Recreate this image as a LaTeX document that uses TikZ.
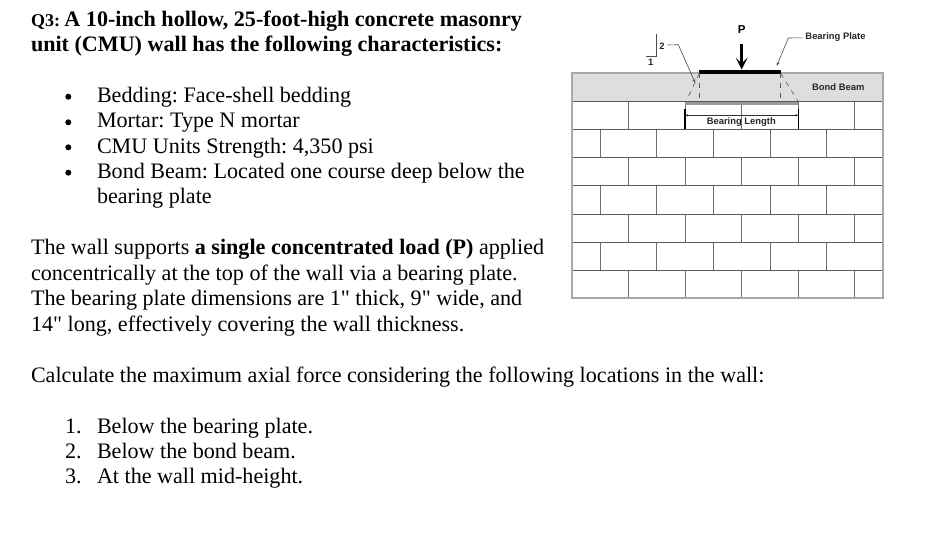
\documentclass[tikz,border=0pt]{standalone}
\usepackage{fontspec}
\setmainfont[Ligatures=TeXOff]{Liberation Serif}
\newfontfamily\diag{Liberation Sans}
\usetikzlibrary{arrows.meta}
\definecolor{beamgray}{HTML}{DEDEDE}
\definecolor{brickline}{HTML}{6E6E6E}
\definecolor{outerline}{HTML}{A8A8A8}
\tikzset{
  txt/.style={anchor=base west,inner sep=0pt,outer sep=0pt,font=\frenchspacing\fontsize{22.1}{25}\selectfont},
  lab/.style={inner sep=0pt,outer sep=0pt,font=\diag\bfseries\fontsize{9.4}{11}\selectfont,text=black!85},
  brick/.style={draw=brickline,line width=0.8pt},
  course/.style={draw=black!65,line width=1pt},
  leader/.style={draw=black!70,line width=0.6pt,-{Stealth[length=4pt,width=3pt]}},
  dashline/.style={draw=black!65,line width=0.6pt,dash pattern=on 5pt off 5pt},
}
\begin{document}
\begin{tikzpicture}[x=1pt,y=-1pt]
\useasboundingbox[fill=white] (0,0) rectangle (931,551);
% Text
\node[txt] (t1) at (31,26.5) {\bfseries\fontsize{18}{25}\selectfont Q3: \fontsize{22.1}{25}\selectfont A 10-inch hollow, 25-foot-high concrete masonry};
\node[txt] (t2) at (31,51.5) {\bfseries unit (CMU) wall has the following characteristics:};
\foreach \y in {96.7,122.3,147.3,172.7}{
  \fill (68.3,\y) circle (3);
}
\node[txt] (b1) at (97,102.3) {Bedding: Face-shell bedding};
\node[txt] (b2) at (97,127.7) {Mortar: Type N mortar};
\node[txt] (b3) at (97,153) {CMU Units Strength: 4,350 psi};
\node[txt] (b4) at (97,178) {Bond Beam: Located one course deep below the};
\node[txt] (b5) at (97,203.3) {bearing plate};
\node[txt] (p1) at (31,254.5) {The wall supports \textbf{a single concentrated load (P)} applied};
\node[txt] (p2) at (31,280) {concentrically at the top of the wall via a bearing plate.};
\node[txt] (p3) at (31,305.5) {The bearing plate dimensions are 1" thick, 9" wide, and};
\node[txt] (p4) at (31,331) {14" long, effectively covering the wall thickness.};
\node[txt] (c1) at (31,382.3) {Calculate the maximum axial force considering the following locations in the wall:};
\node[txt] (n1) at (65,433) {1.};
\node[txt] (l1) at (97,433) {Below the bearing plate.};
\node[txt] (n2) at (65,458.3) {2.};
\node[txt] (l2) at (97,458.3) {Below the bond beam.};
\node[txt] (n3) at (65,483.5) {3.};
\node[txt] (l3) at (97,483.5) {At the wall mid-height.};
% Wall
\fill[beamgray] (572,73) rectangle (883,101);
\foreach \a/\b in {101/129,157/185,214/242,270/298}{
  \foreach \x in {628.5,685,741.7,798,854.5}{\draw[brick] (\x,\a) -- (\x,\b);}
}
\foreach \a/\b in {129/157,185/214,242/270}{
  \foreach \x in {600.3,656.7,713.3,770,826.3}{\draw[brick] (\x,\a) -- (\x,\b);}
}
\foreach \y in {101,129,157,185,214,242,270}{\draw[course] (572,\y) -- (883,\y);}
\draw[outerline,line width=1.1pt] (572,73) rectangle (883,298);
% Spread band
\fill[black!40] (685,102) rectangle (798,105);
% Plate and load
\coordinate (plateL) at (699.3,73.3);
\coordinate (plateR) at (780.7,73.3);
\fill[black] (699.3,70) rectangle (780.7,73.5);
\node[lab,font=\diag\bfseries\fontsize{11.5}{13}\selectfont,text=black] (P) at (741.7,29.5) {P};
\coordinate (loadtop) at (741.7,44);
\coordinate (loadtip) at (741.7,69.5);
\draw[line width=2.6pt,-{Stealth[length=12pt,width=12pt,inset=6pt]},black] (loadtop) -- (loadtip);
% Dashed spreads
\coordinate (spreadL) at (688.3,96.7);
\coordinate (spreadR) at (797.7,100.7);
\coordinate (vertL) at (699.3,98);
\coordinate (vertR) at (780.7,98);
\draw[dashline] (plateL) -- (spreadL);
\draw[dashline] (plateR) -- (spreadR);
\draw[dashline] (plateL) -- (vertL);
\draw[dashline] (plateR) -- (vertR);
% Slope marker
\coordinate (s1) at (656.7,34);
\coordinate (s2) at (656.7,56);
\coordinate (s3) at (645.7,56);
\draw[black!70,line width=0.7pt] (s1) -- (s2) -- (s3);
\node[lab] (two) at (662,46) {2};
\node[lab] (one) at (650.7,62.5) {1};
% Labels and leaders
\node[lab] (bp) at (835.5,36.8) {Bearing Plate};
\node[lab] (bb) at (838.3,86.8) {Bond Beam};
\coordinate (bpknee) at (788.3,38);
\coordinate (bptip) at (776.7,66);
\draw[leader] (bp.west) ++(-3,1) -- (bpknee) -- (bptip);
\coordinate (twoknee) at (678.3,44.7);
\coordinate (twotip) at (695.3,83);
\draw[leader] (two.east) ++(3,-1) -- (twoknee) -- (twotip);
% Dimension
\coordinate (dL) at (685,115.3);
\coordinate (dR) at (798.3,115.3);
\draw[black,line width=1.2pt] (685,108.5) -- (685,129);
\draw[black,line width=1.2pt] (798.3,108.5) -- (798.3,129);
\draw[black!80,line width=0.6pt,{Stealth[length=3pt,width=2.5pt]}-{Stealth[length=3pt,width=2.5pt]}] (dL) -- (dR);
\node[lab] (bl) at (741.3,121.8) {Bearing Length};
\end{tikzpicture}
\end{document}
